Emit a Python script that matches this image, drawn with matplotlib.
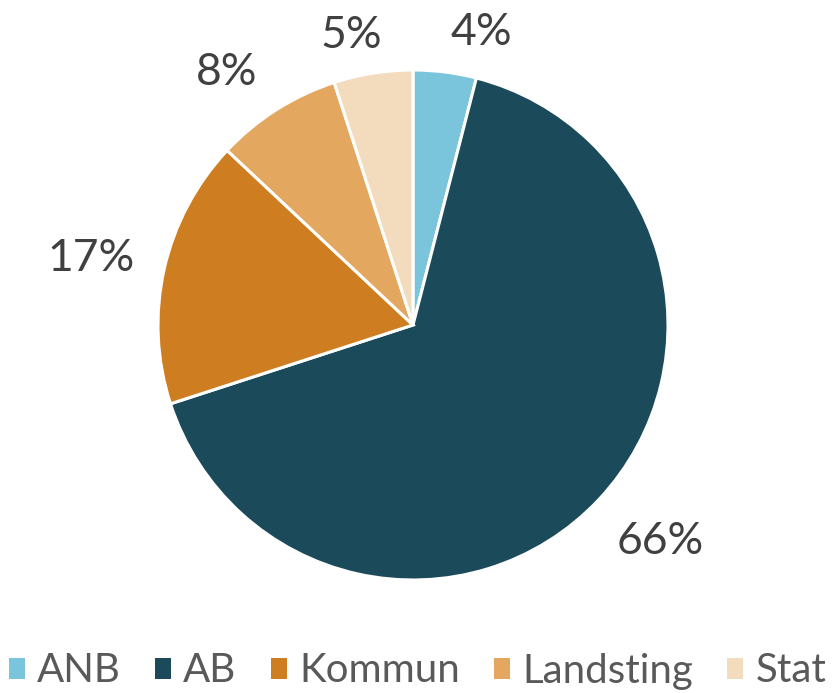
import numpy as np
import matplotlib.pyplot as plt
from matplotlib.patches import Patch

# данные
categories = ['ANB', 'AB', 'Kommun', 'Landsting', 'Stat']
shares = [4, 66, 17, 8, 5]
colors = ['#7AC5DC', '#1B4A5A', '#CE7E20', '#E4A75F', '#F3DBBD']

# стиль подписей
label_dist = [1.18, 1.29, 1.29, 1.23, 1.16]
angle_nudge = [-6, 2, 1, 4, 3]

plt.rcParams['font.family'] = ['Lato', 'DejaVu Sans']

fig = plt.figure(figsize=(8.35, 6.93), dpi=100)
ax = fig.add_axes([0, 0, 1, 1])

cx, cy, r = 413, 693 - 325, 255
wedges, _ = ax.pie(shares, colors=colors, startangle=90, counterclock=False,
                   center=(cx, cy), radius=r,
                   wedgeprops=dict(edgecolor='white', linewidth=2.2))
ax.set_xlim(0, 835)
ax.set_ylim(0, 693)
ax.set_aspect('auto')
ax.axis('off')

total = sum(shares)
for w, val, d, nd in zip(wedges, shares, label_dist, angle_nudge):
    mid = np.deg2rad((w.theta1 + w.theta2) / 2 + nd)
    ax.text(cx + r * d * np.cos(mid), cy + r * d * np.sin(mid),
            f'{round(100 * val / total)}%', ha='center', va='center',
            fontsize=32, color='#404040')

handles = [Patch(facecolor=c, edgecolor='none') for c in colors]
fig.legend(handles, categories, loc='center', bbox_to_anchor=(0.5, 22 / 693),
           ncol=5, frameon=False, fontsize=29, labelcolor='#595959',
           handlelength=0.4, handleheight=0.42, handletextpad=0.3,
           columnspacing=0.85, borderpad=0)

fig.savefig('out.png', dpi=100)
